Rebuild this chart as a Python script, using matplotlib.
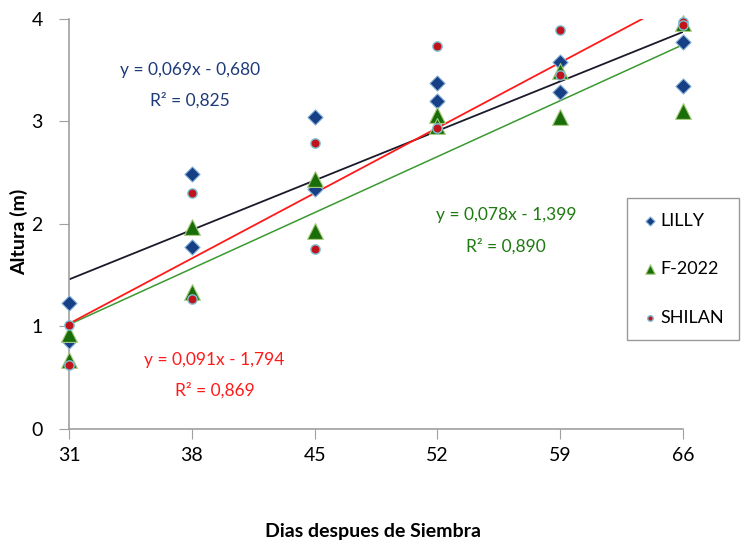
import numpy as np
import matplotlib
matplotlib.use('Agg')
import matplotlib.pyplot as plt

plt.rcParams['font.family'] = ['Lato', 'DejaVu Sans']

dias = [31, 31, 38, 38, 45, 45, 52, 52, 59, 59, 66, 66]
lilly = [1.23, 0.86, 2.49, 1.78, 3.04, 2.34, 3.38, 3.20, 3.58, 3.29, 3.78, 3.35]
f2022 = [0.93, 0.67, 1.97, 1.34, 2.44, 1.93, 3.06, 2.96, 3.49, 3.04, 3.96, 3.10]
shilan = [1.01, 0.62, 2.30, 1.27, 2.79, 1.76, 3.74, 2.94, 3.89, 3.45, 3.97, 3.94]

# trend lines (slope, intercept) as printed in the chart
coef_lilly = (0.069, -0.680)
coef_f2022 = (0.078, -1.399)
coef_shilan = (0.091, -1.794)

xticks = [31, 38, 45, 52, 59, 66]

fig = plt.figure(figsize=(7.45, 5.5), dpi=100)
ax = fig.add_axes([0.0926, 0.22, 0.8242, 0.7455])

navy = '#1f3a7a'
green = '#1e7a10'
red = '#ff1a1a'

xx = np.array([31, 66])
ax.plot(xx, coef_lilly[0] * xx + coef_lilly[1], color='#1a1a2a', lw=1.3, zorder=2)
ax.plot(xx, coef_f2022[0] * xx + coef_f2022[1], color='#3a9a30', lw=1.1, zorder=2)
ax.plot(xx, coef_shilan[0] * xx + coef_shilan[1], color=red, lw=1.3, zorder=2)

ax.scatter(dias, lilly, marker='D', s=60, color='#173f85', edgecolor='#8ab4d8', lw=0.8,
           label='LILLY', zorder=3, clip_on=False)
ax.scatter(dias, f2022, marker='^', s=130, color='#1a6e0a', edgecolor='#a8cc80', lw=0.8,
           label='F-2022', zorder=3, clip_on=False)
ax.scatter(dias, shilan, marker='o', s=45, color='#c0141a', edgecolor='#7ec0d8', lw=1.0,
           label='SHILAN', zorder=4, clip_on=False)

fs = 12.5
ax.text(37.9, 3.50, 'y = 0,069x - 0,680', color=navy, fontsize=fs, ha='center', va='center')
ax.text(37.9, 3.21, 'R² = 0,825', color=navy, fontsize=fs, ha='center', va='center')
ax.text(55.9, 2.09, 'y = 0,078x - 1,399', color=green, fontsize=fs, ha='center', va='center')
ax.text(55.9, 1.78, 'R² = 0,890', color=green, fontsize=fs, ha='center', va='center')
ax.text(39.3, 0.67, 'y = 0,091x - 1,794', color=red, fontsize=fs, ha='center', va='center')
ax.text(39.3, 0.38, 'R² = 0,869', color=red, fontsize=fs, ha='center', va='center')

ax.set_xlim(31, 66)
ax.set_ylim(0, 4)
ax.set_xticks(xticks)
ax.set_yticks([0, 1, 2, 3, 4])
ax.tick_params(axis='both', direction='out', length=7, color='#a0a0a0', labelsize=14, pad=12)
ax.tick_params(axis='x', pad=6)
for side in ['top', 'right']:
    ax.spines[side].set_visible(False)
for side in ['left', 'bottom']:
    ax.spines[side].set_color('#a0a0a0')
    ax.spines[side].set_linewidth(1.2)

ax.set_xlabel('Dias despues de Siembra', fontsize=14, fontweight='bold')
ax.set_ylabel('Altura (m)', fontsize=14, fontweight='bold')
ax.xaxis.set_label_coords(0.495, -0.23)
ax.yaxis.set_label_coords(-0.066, 0.48)

leg = ax.legend(loc='upper left', bbox_to_anchor=(0.908, 0.563), fontsize=13, frameon=True,
                fancybox=False, edgecolor='#808080', handletextpad=0.1, labelspacing=1.8,
                borderpad=0.8, handlelength=1.0, markerscale=0.6, borderaxespad=0)
leg.get_frame().set_linewidth(1.0)

fig.savefig('out.png', dpi=100)
